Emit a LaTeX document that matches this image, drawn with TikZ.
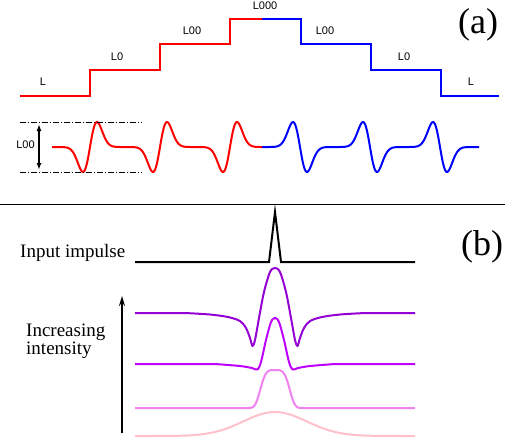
\documentclass[tikz,border=0pt]{standalone}
\usepackage{fontspec}
\setmainfont{Liberation Serif}
\newfontfamily\labfont{Liberation Sans}
\usetikzlibrary{arrows.meta}
\definecolor{cone}{RGB}{148,0,211}
\definecolor{ctwo}{RGB}{190,0,255}
\definecolor{cthree}{RGB}{238,130,238}
\definecolor{cfour}{RGB}{255,192,203}
\begin{document}
\begin{tikzpicture}[x=1pt,y=-1pt,line join=miter,
  declare function={dg(\u)=\u*exp((1-\u*\u)/2); sq(\t)=\t*\t;},
  thick line/.style={line width=2pt},
  small label/.style={font=\labfont\fontsize{11}{11}\selectfont,inner sep=0pt},
  big label/.style={font=\fontsize{36}{36}\selectfont,inner sep=0pt,anchor=base west},
  text label/.style={font=\fontsize{19}{18}\selectfont,inner sep=0pt,anchor=base west},
  dashdot line/.style={line width=0.8pt,dash pattern=on 6pt off 2pt on 1pt off 2pt},
  curve/.style={line width=2pt,line join=round}]
\useasboundingbox (0,0) rectangle (505,437);

% ---------- (a) staircase ----------
\draw[thick line,red] (20,96) -- (90,96) -- (90,70) -- (160,70) -- (160,44) -- (230,44) -- (230,19) -- (262,19);
\draw[thick line,blue] (262,19) -- (301,19) -- (301,44) -- (371,44) -- (371,70) -- (441,70) -- (441,96) -- (499,96);

\node[small label] (l1) at (43,82) {L};
\node[small label] (l2) at (117,57) {L0};
\node[small label] (l3) at (192,31) {L00};
\node[small label] (l4) at (265,5.5) {L000};
\node[small label] (r3) at (325,31) {L00};
\node[small label] (r2) at (404,57) {L0};
\node[small label] (r1) at (471,82) {L};

\node[big label] (lab a) at (458,33) {(a)};

% ---------- (a) waves ----------
\draw[curve,red] (52,147) -- (55,147)
  -- plot[domain=55:125,samples=80] (\x,{147-25*dg((\x-90)/7)})
  -- plot[domain=125:195,samples=80] (\x,{147-25*dg((\x-160)/7)})
  -- plot[domain=195:262,samples=80] (\x,{147-25*dg((\x-230)/7)});
\draw[curve,blue]
  plot[domain=262:335,samples=80] (\x,{147+25*dg((\x-300)/7)})
  -- plot[domain=335:405,samples=80] (\x,{147+25*dg((\x-370)/7)})
  -- plot[domain=405:479,samples=80] (\x,{147+25*dg((\x-440)/7)});

\coordinate (dtop) at (20,122);
\coordinate (dtopend) at (142,122);
\coordinate (dbot) at (20,172);
\coordinate (dbotend) at (142,172);
\draw[dashdot line] (dtop) -- (dtopend);
\draw[dashdot line] (dbot) -- (dbotend);
\coordinate (atop) at (39,124);
\coordinate (abot) at (39,170);
\draw[line width=1.6pt,{Latex[length=7pt,width=5pt]}-{Latex[length=7pt,width=5pt]}] (atop) -- (abot);
\node[small label] (amp) at (25.5,145) {L00};

% ---------- divider ----------
\draw[line width=1pt] (0,204) -- (505,204);

% ---------- (b) ----------
\node[big label] (lab b) at (461,255) {(b)};
\node[text label] (inp) at (20,257) {Input impulse};
\node[text label,align=left] (inc) at (26,354) {Increasing\\intensity};

\draw[thick line] (135,262) -- (269,262) -- (275,212) -- (281,262) -- (415,262);

\coordinate (arrbot) at (122,433);
\coordinate (arrtop) at (122,296);
\draw[line width=2pt,-{Stealth[length=10pt,width=6pt]}] (arrbot) -- (arrtop);

\draw[curve,cone] (135,313) -- (185,313) -- plot[smooth,tension=0.5] coordinates {
  (185,313) (210,314.5) (228,317) (240,321) (246,328) (250,338) (252.5,346)
  (255,340) (259,318) (264,292) (270,272) (275,268) (280,272) (286,292) (291,318)
  (295,340) (297.5,346) (300,338) (304,328) (310,321) (322,317) (340,314.5) (365,313)}
  -- (415,313);

\draw[curve,ctwo] (135,364) -- (215,364) -- plot[smooth,tension=0.5] coordinates {
  (215,364) (240,366) (252,368) (257.5,369.5) (261,362) (266,340) (271,322) (275,318)
  (279,322) (284,340) (289,362) (292.5,369.5) (298,368) (310,366) (335,364)}
  -- (415,364);

\draw[curve,cthree] (135,408) -- plot[domain=245:305,samples=80] (\x,{408-38*exp(-sq(sq((\x-275)/16)))}) -- (415,408);

\draw[curve,cfour] plot[domain=135:415,samples=141] (\x,{436-24*exp(-sq((\x-275)/45))});
\end{tikzpicture}
\end{document}
